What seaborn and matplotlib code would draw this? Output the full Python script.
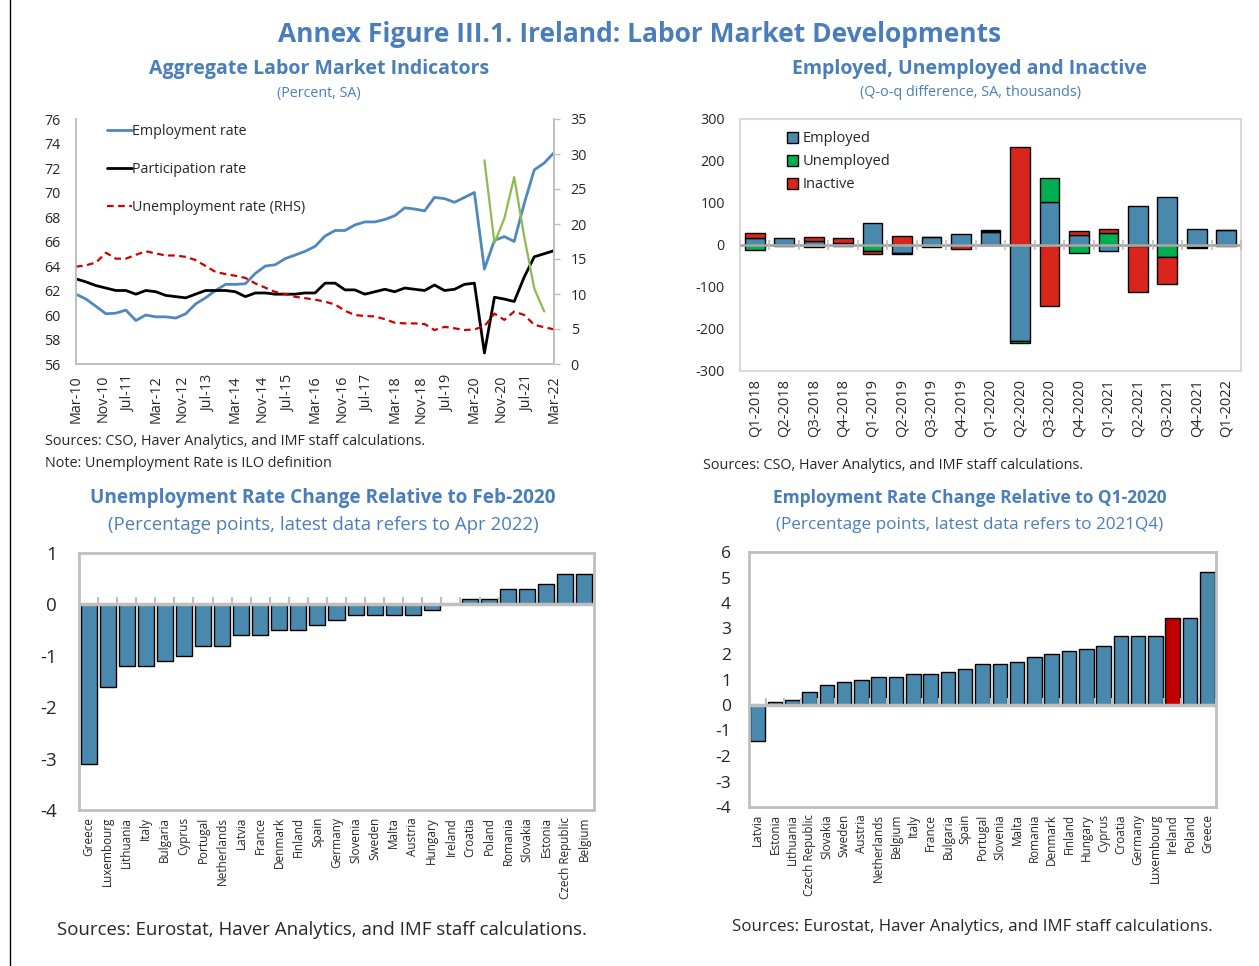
import numpy as np
import pandas as pd
import matplotlib
matplotlib.use("Agg")
import matplotlib.pyplot as plt
import matplotlib.dates as mdates
from matplotlib.lines import Line2D
import seaborn as sns

# ---------------- data ----------------
quarters = pd.date_range("2010-03-01", "2022-03-01", freq="3MS")

employment_rate = [
    61.7, 61.3, 60.7, 60.1, 60.15, 60.4, 59.55, 60.0, 59.85, 59.85, 59.75, 60.1, 60.9,
    61.4, 62.0, 62.5, 62.5, 62.55, 63.4, 64.0, 64.1, 64.6, 64.9, 65.2, 65.6,
    66.45, 66.9, 66.9, 67.35, 67.6, 67.6, 67.8, 68.1, 68.75, 68.65, 68.5, 69.6,
    69.5, 69.2, 69.6, 70.0, 63.75, 66.1, 66.4, 66.0, 69.1, 71.85, 72.4, 73.25,
]
participation_rate = [
    62.95, 62.7, 62.4, 62.2, 62.0, 62.0, 61.7, 62.0, 61.9, 61.6, 61.5, 61.4, 61.7,
    62.0, 62.0, 62.0, 61.9, 61.5, 61.8, 61.8, 61.7, 61.7, 61.7, 61.8, 61.8,
    62.6, 62.6, 62.05, 62.05, 61.7, 61.9, 62.1, 61.9, 62.2, 62.1, 62.0, 62.45,
    62.0, 62.1, 62.5, 62.6, 56.9, 61.45, 61.3, 61.1, 63.1, 64.75, 65.0, 65.25,
]
unemployment_rate = [
    13.9, 14.1, 14.5, 15.9, 15.05, 15.05, 15.6, 16.1, 15.8, 15.5, 15.5, 15.3, 14.85,
    14.0, 13.15, 12.85, 12.6, 12.3, 11.5, 10.9, 10.3, 10.0, 9.6, 9.4, 9.2,
    8.9, 8.5, 7.6, 7.0, 6.85, 6.8, 6.4, 5.9, 5.8, 5.8, 5.7, 4.85,
    5.3, 5.1, 4.85, 4.95, 5.4, 7.2, 6.3, 7.5, 7.0, 5.6, 5.25, 4.95,
]
covid_adj_dates = quarters[41:48]
covid_adj_unemployment = [29.1, 17.3, 20.8, 26.7, 18.2, 10.8, 7.5]

date_ticks = pd.date_range("2010-03-01", "2022-03-01", freq="8MS")

flow_quarters = ["Q1-2018", "Q2-2018", "Q3-2018", "Q4-2018", "Q1-2019", "Q2-2019",
                 "Q3-2019", "Q4-2019", "Q1-2020", "Q2-2020", "Q3-2020", "Q4-2020",
                 "Q1-2021", "Q2-2021", "Q3-2021", "Q4-2021", "Q1-2022"]
employed = [17, 16, 9, 4, 53, -20, 18, 26, 31, -229, 103, 23, -14, 92, 114, 37, 36]
unemployed = [-12, -1, -4, -2, -15, -1, -4, -1, 2, -5, 56, -18, 28, -3, -29, -5, -3]
inactive = [12, -2, 9, 12, -7, 22, 2, -9, 2, 234, -145, 11, 10, -109, -63, -1, 0]

ur_countries = ["Greece", "Luxembourg", "Lithuania", "Italy", "Bulgaria", "Cyprus",
                "Portugal", "Netherlands", "Latvia", "France", "Denmark", "Finland",
                "Spain", "Germany", "Slovenia", "Sweden", "Malta", "Austria", "Hungary",
                "Ireland", "Croatia", "Poland", "Romania", "Slovakia", "Estonia",
                "Czech Republic", "Belgium"]
ur_change = [-3.1, -1.6, -1.2, -1.2, -1.1, -1.0, -0.8, -0.8, -0.6, -0.6, -0.5, -0.5,
             -0.4, -0.3, -0.2, -0.2, -0.2, -0.2, -0.1, 0.0, 0.1, 0.1, 0.3, 0.3, 0.4,
             0.6, 0.6]

er_countries = ["Latvia", "Estonia", "Lithuania", "Czech Republic", "Slovakia", "Sweden",
                "Austria", "Netherlands", "Belgium", "Italy", "France", "Bulgaria",
                "Spain", "Portugal", "Slovenia", "Malta", "Romania", "Denmark",
                "Finland", "Hungary", "Cyprus", "Croatia", "Germany", "Luxembourg",
                "Ireland", "Poland", "Greece"]
er_change = [-1.4, 0.1, 0.2, 0.5, 0.8, 0.9, 1.0, 1.1, 1.1, 1.2, 1.2, 1.3, 1.4, 1.6,
             1.6, 1.7, 1.9, 2.0, 2.1, 2.2, 2.3, 2.7, 2.7, 2.7, 3.4, 3.4, 5.2]

# ---------------- style ----------------
sns.set_theme(style="white")
plt.rcParams["font.family"] = ["Open Sans", "DejaVu Sans"]
plt.rcParams["axes.unicode_minus"] = False

TITLE_BLUE = "#4A7EBB"
LINE_BLUE = "#4F88BF"
BAR_BLUE = "#4A89AE"
RED = "#D9261C"
GREEN = "#00B050"
LIME = "#8DBB4F"
DASH_RED = "#D00000"
IRELAND_RED = "#C00000"
FRAME = "#BFBFBF"

W, H = 1259, 966
fig = plt.figure(figsize=(W / 100, H / 100), dpi=100)


def px_axes(x0, y0, x1, y1):
    return fig.add_axes([x0 / W, 1 - y1 / H, (x1 - x0) / W, (y1 - y0) / H])


def ftext(x, y, s, **kw):
    kw.setdefault("va", "center")
    kw.setdefault("ha", "center")
    fig.text(x / W, 1 - y / H, s, **kw)


# ---------------- headings ----------------
ftext(640, 35, "Annex Figure III.1. Ireland: Labor Market Developments",
      fontsize=19, fontweight="bold", color=TITLE_BLUE)
ftext(319, 69, "Aggregate Labor Market Indicators", fontsize=14,
      fontweight="bold", color=TITLE_BLUE)
ftext(319, 93, "(Percent, SA)", fontsize=10.3, color=TITLE_BLUE)
ftext(970, 69, "Employed, Unemployed and Inactive", fontsize=14,
      fontweight="bold", color=TITLE_BLUE)
ftext(970, 93, "(Q-o-q difference, SA, thousands)", fontsize=10.4, color=TITLE_BLUE)
ftext(323, 498, "Unemployment Rate Change Relative to Feb-2020", fontsize=13.7,
      fontweight="bold", color=TITLE_BLUE)
ftext(323, 525, "(Percentage points, latest data refers to Apr 2022)",
      fontsize=13.4, color=TITLE_BLUE)
ftext(970, 498, "Employment Rate Change Relative to Q1-2020", fontsize=12.5,
      fontweight="bold", color=TITLE_BLUE)
ftext(970, 525, "(Percentage points, latest data refers to 2021Q4)",
      fontsize=12.3, color=TITLE_BLUE)

ftext(45, 442, "Sources: CSO, Haver Analytics, and IMF staff calculations.",
      ha="left", fontsize=10.4)
ftext(45, 463, "Note: Unemployment Rate is ILO definition", ha="left", fontsize=10.4)
ftext(703, 465, "Sources: CSO, Haver Analytics, and IMF staff calculations.",
      ha="left", fontsize=10.4)
ftext(322, 930, "Sources: Eurostat, Haver Analytics, and IMF staff calculations.",
      fontsize=13.4)
ftext(972, 927, "Sources: Eurostat, Haver Analytics, and IMF staff calculations.",
      fontsize=12.2)

fig.add_artist(Line2D([10 / W, 10 / W], [0, 1], color="black", lw=1))

# ---------------- panel 1: rates ----------------
ax1 = px_axes(76, 119, 554, 364)
ax1r = ax1.twinx()
sns.lineplot(x=quarters, y=employment_rate, ax=ax1, color=LINE_BLUE, lw=2,
             label="Employment rate")
sns.lineplot(x=quarters, y=participation_rate, ax=ax1, color="black", lw=2,
             label="Participation rate")
sns.lineplot(x=quarters, y=unemployment_rate, ax=ax1r, color=DASH_RED, lw=1.6,
             linestyle=(0, (3, 2)), label="Unemployment rate (RHS)")
sns.lineplot(x=covid_adj_dates, y=covid_adj_unemployment, ax=ax1r, color=LIME, lw=1.6)

for a in (ax1, ax1r):
    if a.get_legend() is not None:
        a.get_legend().remove()
    a.set_xlabel("")
    a.set_ylabel("")

ax1.set_xlim(quarters[0], quarters[-1])
ax1.set_ylim(56, 76)
ax1.set_yticks(np.arange(56, 77, 2))
ax1r.set_ylim(0, 35)
ax1r.set_yticks(np.arange(0, 36, 5))
ax1.set_xticks(date_ticks)
ax1.xaxis.set_major_formatter(mdates.DateFormatter("%b-%y"))
ax1.tick_params(axis="x", direction="in", length=5, width=1, color=FRAME,
                labelsize=10.3, labelrotation=90, pad=8)
ax1.tick_params(axis="y", length=0, labelsize=10.3, pad=11)
ax1r.tick_params(axis="y", direction="out", length=4, width=1, color=FRAME,
                 labelsize=10.3, pad=8)
for a in (ax1, ax1r):
    a.spines["top"].set_visible(False)
    for s in ("left", "right", "bottom"):
        a.spines[s].set_color(FRAME)
        a.spines[s].set_linewidth(1.2)

h1, l1 = ax1.get_legend_handles_labels()
h2, l2 = ax1r.get_legend_handles_labels()
ax1r.legend(h1 + h2, l1 + l2, loc="upper left", bbox_to_anchor=(0.05, 1.008),
            frameon=False, fontsize=10.3, handlelength=1.75, handletextpad=0.02,
            labelspacing=1.6, borderpad=0)

# ---------------- panel 2: labour force flows ----------------
ax2 = px_axes(740, 119, 1241, 371)
xpos = np.arange(len(flow_quarters))
pos_base = np.zeros(len(flow_quarters))
neg_base = np.zeros(len(flow_quarters))
for name, vals, col in (("Employed", employed, BAR_BLUE),
                        ("Unemployed", unemployed, GREEN),
                        ("Inactive", inactive, RED)):
    v = np.asarray(vals, dtype=float)
    base = np.where(v >= 0, pos_base, neg_base)
    ax2.bar(xpos, v, bottom=base, width=0.67, color=col, edgecolor="black",
            linewidth=1, label=name, zorder=2)
    pos_base = pos_base + np.clip(v, 0, None)
    neg_base = neg_base + np.clip(v, None, 0)

ax2.axhline(0, color="#A6A6A6", lw=2, zorder=3)
ax2.plot(np.arange(len(flow_quarters) + 1) - 0.5, np.zeros(len(flow_quarters) + 1),
         ls="none", marker="|", ms=7, mew=1.2, color=FRAME, zorder=3)
ax2.set_xlim(-0.5, len(flow_quarters) - 0.5)
ax2.set_ylim(-300, 300)
ax2.set_yticks(np.arange(-300, 301, 100))
ax2.set_xticks(xpos)
ax2.set_xticklabels(flow_quarters, rotation=90)
ax2.tick_params(axis="x", length=0, labelsize=10.5, pad=6)
ax2.tick_params(axis="y", direction="in", length=4, width=1, color=FRAME,
                labelsize=10.3, pad=11)
for s in ax2.spines.values():
    s.set_color("#D9D9D9")
    s.set_linewidth(1.5)
ax2.legend(loc="upper left", bbox_to_anchor=(0.08, 0.98), frameon=False,
           fontsize=10.5, handlelength=0.75, handleheight=0.75, handletextpad=0.3,
           labelspacing=0.55, borderpad=0)


# ---------------- panels 3 & 4: cross-country changes ----------------
def country_bars(ax, cats, vals, ylim, highlight=None):
    palette = [IRELAND_RED if c == highlight else BAR_BLUE for c in cats]
    sns.barplot(x=cats, y=vals, hue=cats, palette=palette, legend=False, ax=ax,
                saturation=1, edgecolor="black", linewidth=1, width=0.84, zorder=2)
    n = len(cats)
    ax.axhline(0, color=FRAME, lw=2.5, zorder=3)
    ax.plot(np.arange(n + 1) - 0.5, np.zeros(n + 1), ls="none", marker=2, ms=5,
            mew=1.5, color=FRAME, zorder=3)
    ax.set_xlim(-0.5, n - 0.5)
    ax.set_ylim(*ylim)
    ax.set_yticks(np.arange(ylim[0], ylim[1] + 1, 1))
    ax.set_xlabel("")
    ax.set_ylabel("")
    ax.tick_params(axis="x", length=0, labelrotation=90, labelsize=8.5, pad=5)
    for s in ax.spines.values():
        s.set_color(FRAME)
        s.set_linewidth(2)


ax3 = px_axes(79, 553, 594, 810)
country_bars(ax3, ur_countries, ur_change, (-4, 1))
ax3.tick_params(axis="y", direction="in", length=5, width=2, color=FRAME,
                labelsize=13.5, pad=16)

ax4 = px_axes(749, 552, 1216, 807)
country_bars(ax4, er_countries, er_change, (-4, 6), highlight="Ireland")
ax4.tick_params(axis="y", direction="in", length=5, width=2, color=FRAME,
                labelsize=12.5, pad=13)

fig.savefig("out.png", dpi=100)
